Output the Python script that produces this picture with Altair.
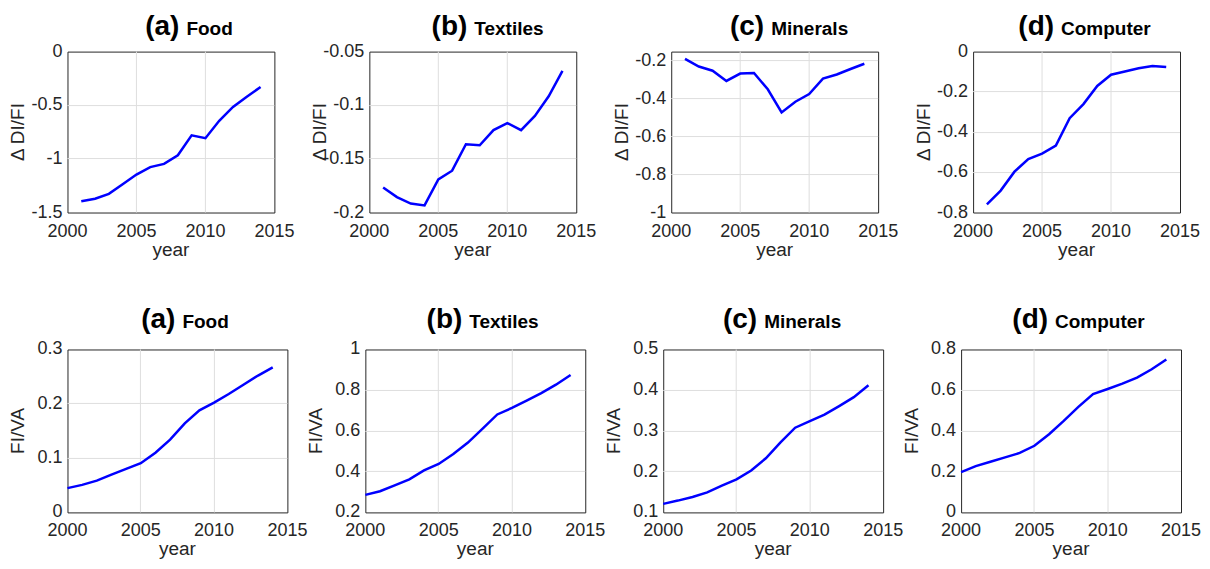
import altair as alt
import pandas as pd

# ---------------- data ----------------
YEARS_TOP = list(range(2001, 2015))
YEARS_BOTTOM = list(range(2000, 2015))
LETTERS = ["(a)", "(b)", "(c)", "(d)"]
SECTORS = ["Food", "Textiles", "Minerals", "Computer"]
X_TICKS = [2000, 2005, 2010, 2015]

DDI_FOOD = [-1.395, -1.371, -1.326, -1.236, -1.146, -1.077, -1.047, -0.966,
            -0.780, -0.807, -0.645, -0.516, -0.420, -0.330]
DDI_TEXTILES = [-0.1766, -0.1856, -0.1916, -0.1934, -0.1691, -0.1610, -0.1364,
                -0.1373, -0.1232, -0.1166, -0.1232, -0.1100, -0.0917, -0.0680]
DDI_MINERALS = [-0.188, -0.229, -0.251, -0.305, -0.266, -0.263, -0.349, -0.471,
                -0.415, -0.374, -0.293, -0.271, -0.242, -0.214]
DDI_COMPUTER = [-0.760, -0.691, -0.597, -0.534, -0.507, -0.467, -0.331, -0.261,
                -0.171, -0.115, -0.099, -0.083, -0.072, -0.077]

FIVA_FOOD = [0.0447, 0.0507, 0.0585, 0.0694, 0.0803, 0.0905, 0.110, 0.134,
             0.164, 0.188, 0.202, 0.218, 0.235, 0.252, 0.267]
FIVA_TEXTILES = [0.286, 0.304, 0.333, 0.362, 0.406, 0.438, 0.487, 0.543,
                 0.611, 0.681, 0.713, 0.749, 0.786, 0.827, 0.875]
FIVA_MINERALS = [0.121, 0.129, 0.138, 0.149, 0.166, 0.181, 0.203, 0.233,
                 0.272, 0.308, 0.324, 0.340, 0.361, 0.383, 0.412]
FIVA_COMPUTER = [0.198, 0.227, 0.249, 0.270, 0.292, 0.327, 0.384, 0.449,
                 0.518, 0.581, 0.606, 0.632, 0.662, 0.703, 0.751]

DDI_DOMAINS = [[-1.5, 0], [-0.2, -0.05], [-1, -0.15], [-0.8, 0]]
DDI_TICKS = [[-1.5, -1, -0.5, 0], [-0.2, -0.15, -0.1, -0.05],
             [-1, -0.8, -0.6, -0.4, -0.2], [-0.8, -0.6, -0.4, -0.2, 0]]
FIVA_DOMAINS = [[0, 0.3], [0.2, 1], [0.1, 0.5], [0, 0.8]]
FIVA_TICKS = [[0, 0.1, 0.2, 0.3], [0.2, 0.4, 0.6, 0.8, 1],
              [0.1, 0.2, 0.3, 0.4, 0.5], [0, 0.2, 0.4, 0.6, 0.8]]

# ---------------- layout / style ----------------
FONT = "Liberation Sans"
TOP_W, TOP_H = 207, 161
BOT_W, BOT_H = 220, 163
TOP_SPACING, BOT_SPACING, ROW_SPACING = 95, 78, 298
TOP_TITLE_X = [112, 98, 93, 81]
BOT_TITLE_X = [108, 97, 94, 87]
FRAME = "#262626"
GRID = "#dedede"


def edge_hidden(lo, hi):
    # hide grid lines lying on the box edges so the dark frame stays visible
    return {"condition": {"test": f"datum.value == {lo} || datum.value == {hi}",
                          "value": 0}, "value": 1}


def panel(years, values, domain, ticks, ytitle, letter, sector, w, h, tx, ty):
    df = pd.DataFrame({"year": years, "v": values})
    line = alt.Chart(df).mark_line(color="#0000ff", strokeWidth=2.5).encode(
        x=alt.X("year:Q",
                scale=alt.Scale(domain=[2000, 2015], nice=False, zero=False),
                axis=alt.Axis(values=X_TICKS, title="year",
                              labelExpr="datum.value + ''",
                              gridOpacity=edge_hidden(2000, 2015),
                              labelPadding=10, titlePadding=0)),
        y=alt.Y("v:Q",
                scale=alt.Scale(domain=domain, nice=False, zero=False),
                axis=alt.Axis(values=ticks, title=ytitle,
                              labelExpr="datum.value + ''",
                              gridOpacity=edge_hidden(domain[0], domain[1]),
                              labelPadding=5, titlePadding=3,
                              minExtent=36, maxExtent=36)),
    )
    one = pd.DataFrame({"t": [letter], "s": [sector]})
    t1 = alt.Chart(one).mark_text(
        align="right", baseline="alphabetic", fontSize=28, fontWeight="bold",
        font=FONT, color="black"
    ).encode(text="t:N", x=alt.value(tx), y=alt.value(ty))
    t2 = alt.Chart(one).mark_text(
        align="left", baseline="alphabetic", fontSize=19, fontWeight="bold",
        font=FONT, color="black"
    ).encode(text="s:N", x=alt.value(tx + 7), y=alt.value(ty))
    return alt.layer(line, t1, t2).properties(width=w, height=h)


top_vals = [DDI_FOOD, DDI_TEXTILES, DDI_MINERALS, DDI_COMPUTER]
bot_vals = [FIVA_FOOD, FIVA_TEXTILES, FIVA_MINERALS, FIVA_COMPUTER]

top_row = alt.hconcat(*[
    panel(YEARS_TOP, top_vals[i], DDI_DOMAINS[i], DDI_TICKS[i], "Δ DI/FI",
          LETTERS[i], SECTORS[i], TOP_W, TOP_H, TOP_TITLE_X[i], -17)
    for i in range(4)
], spacing=TOP_SPACING, bounds="flush")

bot_row = alt.hconcat(*[
    panel(YEARS_BOTTOM, bot_vals[i], FIVA_DOMAINS[i], FIVA_TICKS[i], "FI/VA",
          LETTERS[i], SECTORS[i], BOT_W, BOT_H, BOT_TITLE_X[i], -21)
    for i in range(4)
], spacing=BOT_SPACING, bounds="flush")

chart = alt.vconcat(top_row, bot_row, spacing=ROW_SPACING, bounds="flush").properties(
    padding={"left": 0.5, "top": 3.5, "right": 0, "bottom": 0},
    background="white",
).configure_axis(
    grid=True, gridColor=GRID, gridWidth=1, translate=0,
    domain=False, ticks=False,
    labelFont=FONT, labelFontSize=18, labelColor="#262626",
    labelFlush=False, labelOverlap=False,
    titleFont=FONT, titleFontSize=19, titleFontWeight="normal",
    titleColor="#262626",
).configure_view(
    stroke=FRAME, strokeWidth=1
)

chart.save("out.html", embed_options={"renderer": "svg", "actions": False})
